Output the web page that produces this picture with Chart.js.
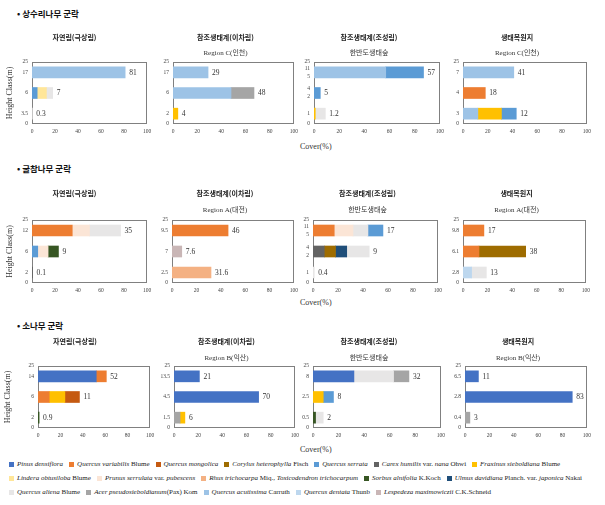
<!DOCTYPE html>
<html>
<head>
<meta charset="utf-8">
<script src="https://cdn.jsdelivr.net/npm/chart.js@4.4.1/dist/chart.umd.min.js"></script>
<style>
html,body{margin:0;padding:0;background:#fff;}
#root{position:relative;width:605px;height:505px;overflow:hidden;}
canvas{position:absolute;}
.heading{position:absolute;font-family:"Noto Sans CJK KR",sans-serif;font-weight:bold;font-size:8.5px;color:#111;line-height:10px;white-space:nowrap;}
.xlabel{position:absolute;font-family:"Liberation Serif",serif;font-size:8px;color:#333;line-height:10px;white-space:nowrap;}
#legend{position:absolute;left:9px;top:457px;font-family:"Liberation Serif",serif;font-size:7px;color:#222;}
.lrow{display:flex;white-space:nowrap;height:14px;align-items:center;}
.litem{display:flex;align-items:center;margin-right:6px;}
.lbox{width:5px;height:5px;margin-right:3px;flex:none;}
</style>
</head>
<body>
<div id="root">
  <div id="legend"></div>
</div>
<script>
// ---------------- DATA ----------------
const communityNames = ['상수리나무 군락', '굴참나무 군락', '소나무 군락'];
const siteTitles = ['자연림(극상림)', '참조생태계(이차림)', '참조생태계(조성림)', '생태복원지'];
const siteRegions = [
  ['', 'Region C(인천)', '한반도생태숲', 'Region C(인천)'],
  ['', 'Region A(대전)', '한반도생태숲', 'Region A(대전)'],
  ['', 'Region B(익산)', '한반도생태숲', 'Region B(익산)']
];
const yAxisTitle = 'Height Class(m)';
const xAxisTitle = 'Cover(%)';
const xTickValues = [0, 20, 40, 60, 80, 100];
const heightTopLabel = '25';
const heightBottomLabel = '0';

// species (legend order); _text_ = italic
const speciesLabels = [
  '_Pinus densiflora_', '_Quercus variabilis_ Blume', '_Quercus mongolica_', '_Corylus heterophylla_ Fisch',
  '_Quercus serrata_', '_Carex humilis_ var. _nana_ Ohwi', '_Fraxinus sieboldiana_ Blume',
  '_Lindera obtusiloba_ Blume', '_Prunus serrulata_ var. _pubescens_', '_Rhus trichocarpa_ Miq., _Toxicodendron trichocarpum_',
  '_Sorbus alnifolia_ K.Koch', '_Ulmus davidiana_ Planch. var. _japonica_ Nakai',
  '_Quercus aliena_ Blume', '_Acer pseudosieboldianum_(Pax) Kom', '_Quercus acutissima_ Carruth',
  '_Quercus dentata_ Thunb', '_Lespedeza maximowiczii_ C.K.Schneid'
];
const speciesColors = [
  '#4472C4', '#ED7D31', '#C55A11', '#9E6C00',
  '#5B9BD5', '#636363', '#FFC000',
  '#FFE699', '#FBE5D6', '#F4B183',
  '#375623', '#1F4E79',
  '#E7E6E6', '#A5A5A5', '#9DC3E6',
  '#BDD7EE', '#C9B6B6'
];
const legendRowSizes = [7, 5, 5];

const PIN = 0, QVA = 1, QMO = 2, COR = 3, QSE = 4, CAR = 5, FRA = 6, LIN = 7, PRU = 8, RHU = 9,
      SOR = 10, ULM = 11, QAL = 12, ACE = 13, QAC = 14, QDE = 15, LES = 16;

// each panel: height classes (top -> bottom), stacked cover segments [species, cover%], total labels
const r1c1Heights = ['17', '6', '3.5'];
const r1c1Cover = [[[QAC, 81]], [[QSE, 4.5], [LIN, 8], [QAL, 5.5]], [[QAL, 0.3]]];
const r1c1Totals = ['81', '7', '0.3'];

const r1c2Heights = ['17', '6', '2'];
const r1c2Cover = [[[QAC, 29]], [[QAC, 48], [ACE, 19]], [[FRA, 4]]];
const r1c2Totals = ['29', '48', '4'];

const r1c3Heights = [['11', '5'], ['4', '2'], '1'];
const r1c3Cover = [[[QAC, 57], [QSE, 30]], [[QSE, 5]], [[FRA, 1], [QAL, 8]]];
const r1c3Totals = ['57', '5', '1.2'];

const r1c4Heights = ['7', '4', '3'];
const r1c4Cover = [[[QAC, 41]], [[QVA, 18]], [[QAC, 12], [FRA, 19], [QSE, 12]]];
const r1c4Totals = ['41', '18', '12'];

const r2c1Heights = ['12', '6', '2'];
const r2c1Cover = [[[QVA, 35], [PRU, 15], [QAL, 27]], [[QSE, 5], [PRU, 9], [SOR, 9]], [[CAR, 0.5]]];
const r2c1Totals = ['35', '9', '0.1'];

const r2c2Heights = ['9.5', '7', '2.5'];
const r2c2Cover = [[[QVA, 46]], [[LES, 8]], [[RHU, 32]]];
const r2c2Totals = ['46', '7.6', '31.6'];

const r2c3Heights = [['11', '5'], ['4', '2'], '1'];
const r2c3Cover = [[[QVA, 17], [PRU, 15], [QAL, 12], [QSE, 12]], [[CAR, 9], [COR, 9], [ULM, 9], [QAL, 18]], [[QAL, 1]]];
const r2c3Totals = ['17', '9', '0.4'];

const r2c4Heights = ['9.8', '6.1', '2.8'];
const r2c4Cover = [[[QVA, 17]], [[QVA, 13], [COR, 38]], [[QDE, 7], [QAL, 12]]];
const r2c4Totals = ['17', '38', '13'];

const r3c1Heights = ['14', '6', '2'];
const r3c1Cover = [[[PIN, 52], [QVA, 9]], [[QVA, 10], [FRA, 14], [QMO, 13]], [[SOR, 1]]];
const r3c1Totals = ['52', '11', '0.9'];

const r3c2Heights = ['13.5', '4.5', '1.5'];
const r3c2Cover = [[[PIN, 21]], [[PIN, 70]], [[ACE, 5], [FRA, 4]]];
const r3c2Totals = ['21', '70', '6'];

const r3c3Heights = ['8', '2.5', '0.5'];
const r3c3Cover = [[[PIN, 32], [QAL, 31], [ACE, 12]], [[FRA, 8], [QSE, 8]], [[SOR, 2], [QAL, 6]]];
const r3c3Totals = ['32', '8', '2'];

const r3c4Heights = ['6.5', '2.8', '0.4'];
const r3c4Cover = [[[PIN, 11]], [[PIN, 88]], [[ACE, 4]]];
const r3c4Totals = ['11', '83', '3'];

// ---------------- LAYOUT ----------------
const headingTop = [8, 163, 320];
const coverLabelTop = [142, 298, 445];
const rowTitleY = [37.5, 193, 341];
const rowSubY = [53, 210.5, 358];
const rowPlotTop = [62, 220, 366];
const rowPlotBottom = [124, 283, 428];
const colPlotLeft = [[32, 173, 314, 463], [32, 172, 313, 463], [38, 174, 313, 465]];
const colPlotRight = [[147, 294, 440, 587], [147, 294, 438, 586], [150, 295, 441, 587]];
const firstColCanvasLeft = [2, 2, 0];
const firstColCanvasRight = 168;

const panelGrid = [
  [[r1c1Heights, r1c1Cover, r1c1Totals], [r1c2Heights, r1c2Cover, r1c2Totals], [r1c3Heights, r1c3Cover, r1c3Totals], [r1c4Heights, r1c4Cover, r1c4Totals]],
  [[r2c1Heights, r2c1Cover, r2c1Totals], [r2c2Heights, r2c2Cover, r2c2Totals], [r2c3Heights, r2c3Cover, r2c3Totals], [r2c4Heights, r2c4Cover, r2c4Totals]],
  [[r3c1Heights, r3c1Cover, r3c1Totals], [r3c2Heights, r3c2Cover, r3c2Totals], [r3c3Heights, r3c3Cover, r3c3Totals], [r3c4Heights, r3c4Cover, r3c4Totals]]
];

Chart.defaults.animation = false;
Chart.defaults.font.family = '"Liberation Serif", serif';
const root = document.getElementById('root');

const boxPlugin = {
  id: 'plotBox',
  beforeDatasetsDraw(chart) {
    const a = chart.chartArea, ctx = chart.ctx;
    ctx.save();
    ctx.strokeStyle = '#808080';
    ctx.lineWidth = 1;
    ctx.strokeRect(Math.round(a.left) + 0.5, Math.round(a.top) + 0.5, Math.round(a.right - a.left) - 1, Math.round(a.bottom - a.top) - 1);
    ctx.restore();
  }
};

function totalsPlugin(totals) {
  return {
    id: 'totals',
    afterDatasetsDraw(chart) {
      const ctx = chart.ctx, xs = chart.scales.x, ys = chart.scales.y;
      ctx.save();
      ctx.font = '7.5px "Liberation Serif", serif';
      ctx.fillStyle = '#333';
      ctx.textAlign = 'left';
      ctx.textBaseline = 'middle';
      totals.forEach((t, r) => {
        let sum = 0;
        chart.data.datasets.forEach(ds => { sum += ds.data[r] || 0; });
        ctx.fillText(t, xs.getPixelForValue(sum) + 4, ys.getPixelForValue(r) + 0.5);
      });
      ctx.restore();
    }
  };
}

function makeChart(row, col, heights, cover, totals) {
  const plotL = colPlotLeft[row][col], plotR = colPlotRight[row][col];
  const left = col === 0 ? firstColCanvasLeft[row] : plotL - 16;
  const yW = plotL - left;
  const right = col === 0 ? firstColCanvasRight : plotR + 8;
  const titleLH = 8.4, subLH = 8.4;
  const top = Math.round(rowTitleY[row] - titleLH / 2);
  const bottom = rowPlotBottom[row] + 14;
  const tPadTop = rowTitleY[row] - titleLH / 2 - top;
  let tPadBottom, sPadBottom = 0;
  if (col === 0) {
    tPadBottom = rowPlotTop[row] - rowTitleY[row] - titleLH / 2;
  } else {
    tPadBottom = rowSubY[row] - rowTitleY[row] - titleLH / 2 - subLH / 2;
    sPadBottom = rowPlotTop[row] - rowSubY[row] - subLH / 2;
  }
  const canvas = document.createElement('canvas');
  canvas.width = right - left;
  canvas.height = bottom - top;
  canvas.style.left = left + 'px';
  canvas.style.top = top + 'px';
  root.appendChild(canvas);

  const nSeg = Math.max(...cover.map(r => r.length));
  const datasets = [];
  for (let k = 0; k < nSeg; k++) {
    datasets.push({
      data: cover.map(r => (r[k] ? r[k][1] : null)),
      backgroundColor: cover.map(r => (r[k] ? speciesColors[r[k][0]] : 'rgba(0,0,0,0)')),
      borderWidth: 0,
      barThickness: 11,
      stack: 's'
    });
  }
  const n = heights.length;
  new Chart(canvas, {
    type: 'bar',
    data: { labels: heights.map((h, i) => i), datasets },
    options: {
      responsive: false,
      devicePixelRatio: 1,
      indexAxis: 'y',
      layout: { padding: { left: 0, right: right - plotR, top: 0, bottom: 0 } },
      plugins: {
        legend: { display: false },
        tooltip: { enabled: false },
        title: {
          display: true, text: siteTitles[col], color: '#222', fullSize: true,
          font: { family: '"Noto Sans CJK KR", sans-serif', size: 7, weight: 'bold', lineHeight: 1.2 },
          padding: { top: tPadTop, bottom: tPadBottom }
        },
        subtitle: {
          display: col > 0, text: siteRegions[row][col], color: '#333', fullSize: true,
          font: { family: '"Liberation Serif", "Noto Sans CJK KR", serif', size: 7, lineHeight: 1.2 },
          padding: { top: 0, bottom: sPadBottom }
        }
      },
      scales: {
        x: {
          type: 'linear', min: 0, max: 100, stacked: true,
          grid: { display: false, drawTicks: false }, border: { display: false },
          afterBuildTicks: s => { s.ticks = xTickValues.map(v => ({ value: v })); },
          afterFit: s => { s.height = 14; },
          ticks: { font: { size: 5.5 }, color: '#444', padding: 4, maxRotation: 0 }
        },
        y: {
          type: 'category', stacked: true, offset: true,
          grid: { display: false, drawTicks: false }, border: { display: false },
          afterBuildTicks: s => {
            const t = [{ value: -0.5 }];
            for (let i = 0; i < n; i++) t.push({ value: i });
            t.push({ value: n - 0.5 });
            s.ticks = t;
          },
          afterFit: s => { s.width = yW; },
          ticks: {
            autoSkip: false, padding: 4, color: '#444',
            font: { size: 5.5, lineHeight: 1.45 },
            callback: v => (v < 0 ? heightTopLabel : (v > n - 1 ? heightBottomLabel : heights[v]))
          },
          title: {
            display: col === 0, text: yAxisTitle, color: '#333',
            font: { size: 8 }, padding: { top: 3, bottom: 0 }
          }
        }
      }
    },
    plugins: [boxPlugin, totalsPlugin(totals)]
  });
}

// headings + cover labels
communityNames.forEach((name, r) => {
  const h = document.createElement('div');
  h.className = 'heading';
  h.style.left = '17px';
  h.style.top = headingTop[r] + 'px';
  h.textContent = '• ' + name;
  root.appendChild(h);
  const c = document.createElement('div');
  c.className = 'xlabel';
  c.style.left = '300px';
  c.style.top = coverLabelTop[r] + 'px';
  c.textContent = xAxisTitle;
  root.appendChild(c);
});

panelGrid.forEach((rowPanels, r) => {
  rowPanels.forEach((p, c) => makeChart(r, c, p[0], p[1], p[2]));
});

// legend
const legend = document.getElementById('legend');
let idx = 0;
legendRowSizes.forEach(sz => {
  const rowDiv = document.createElement('div');
  rowDiv.className = 'lrow';
  for (let k = 0; k < sz; k++, idx++) {
    const item = document.createElement('div');
    item.className = 'litem';
    const box = document.createElement('span');
    box.className = 'lbox';
    box.style.background = speciesColors[idx];
    const txt = document.createElement('span');
    txt.innerHTML = speciesLabels[idx].replace(/_([^_]+)_/g, '<i>$1</i>');
    item.appendChild(box);
    item.appendChild(txt);
    rowDiv.appendChild(item);
  }
  legend.appendChild(rowDiv);
});
</script>
</body>
</html>
